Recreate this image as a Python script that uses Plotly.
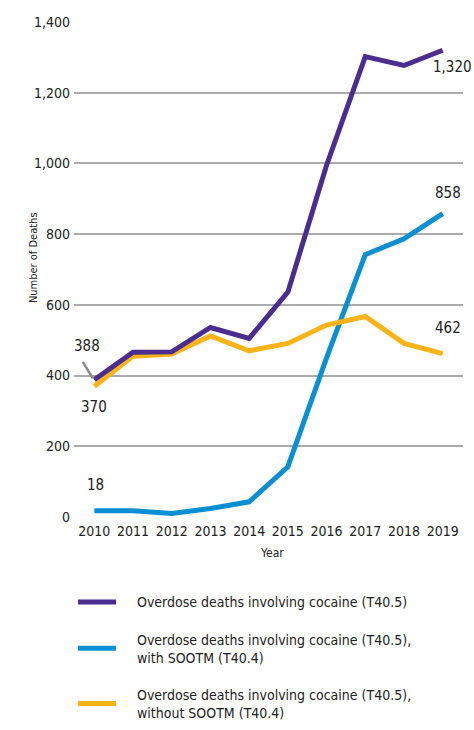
import plotly.graph_objects as go

years = [2010, 2011, 2012, 2013, 2014, 2015, 2016, 2017, 2018, 2019]
cocaine_total = [388, 466, 467, 536, 505, 636, 995, 1302, 1277, 1320]
cocaine_with_sootm = [18, 18, 10, 24, 43, 142, 450, 742, 787, 858]
cocaine_without_sootm = [370, 455, 461, 512, 470, 491, 543, 567, 491, 462]

PAD = "\u00a0" * 4
names = [
    PAD + "Overdose deaths involving cocaine (T40.5)",
    PAD + "Overdose deaths involving cocaine (T40.5),<br>" + PAD + "with SOOTM (T40.4)",
    PAD + "Overdose deaths involving cocaine (T40.5),<br>" + PAD + "without SOOTM (T40.4)",
]
colors = ["#4a2d8f", "#0b8fd4", "#fbb317"]
series = [cocaine_total, cocaine_with_sootm, cocaine_without_sootm]

FONT = "DejaVu Sans Condensed, Liberation Sans Narrow, sans-serif"
TXT = "#222222"

fig = go.Figure()
traces = []
for i in range(3):
    traces.append(go.Scatter(
        x=years, y=series[i], mode="lines", name=names[i],
        line=dict(color=colors[i], width=5),
        legendgroup=f"g{i}", legendrank=i + 1,
    ))
for i in [1, 2, 0]:
    fig.add_trace(traces[i])

# value labels
labels = [
    (years[-1], cocaine_total[-1], f"{cocaine_total[-1]:,}", 10, -17),
    (years[-1], cocaine_with_sootm[-1], f"{cocaine_with_sootm[-1]:,}", 5, 21),
    (years[-1], cocaine_without_sootm[-1], f"{cocaine_without_sootm[-1]:,}", 5, 26),
    (years[0], cocaine_with_sootm[0], f"{cocaine_with_sootm[0]:,}", 1, 26),
    (years[0], cocaine_without_sootm[0], f"{cocaine_without_sootm[0]:,}", 0, -21),
    (years[0], cocaine_total[0], f"{cocaine_total[0]:,}", -7, 34),
]
for x, y, t, xs, ys in labels:
    fig.add_annotation(x=x, y=y, text=t, showarrow=False, xshift=xs, yshift=ys,
                       font=dict(family=FONT, size=15, color=TXT))

# leader line for 388 label
fig.add_shape(type="line", xref="x", yref="y", xsizemode="pixel", ysizemode="pixel",
              xanchor=years[0], yanchor=cocaine_total[0],
              x0=-11.5, y0=18, x1=-1.5, y1=1.5,
              line=dict(color="#8a8a8a", width=2.5))

# axis titles
fig.add_annotation(xref="paper", yref="paper", x=-0.1054, y=0.525, text="Number of Deaths",
                   textangle=-90, showarrow=False, xanchor="center", yanchor="middle",
                   font=dict(family=FONT, size=11, color=TXT))
fig.add_annotation(xref="paper", yref="paper", x=0.509, y=-0.0734, text="Year",
                   showarrow=False, xanchor="center", yanchor="middle",
                   font=dict(family=FONT, size=12, color=TXT))

fig.update_layout(
    width=474, height=730,
    margin=dict(l=74, r=11, t=22, b=213, autoexpand=False),
    paper_bgcolor="white", plot_bgcolor="white",
    font=dict(family=FONT, size=14, color=TXT),
    showlegend=True,
    legend=dict(
        x=-0.0026, y=-0.14, xanchor="left", yanchor="top",
        font=dict(family=FONT, size=14, color=TXT),
        tracegroupgap=16, traceorder="grouped",
        itemwidth=38,
    ),
)
fig.update_xaxes(
    range=[2009.475, 2019.525], tickmode="array", tickvals=years,
    ticktext=[str(y) for y in years], showgrid=False, zeroline=False,
    showline=False, ticks="", tickangle=0, automargin=False,
    ticklabelstandoff=4,
)
fig.update_yaxes(
    range=[0, 1400], tickmode="array", tickvals=list(range(0, 1401, 200)),
    tickformat=",", showgrid=True, gridcolor="#ababab", gridwidth=1.5,
    zeroline=False, showline=False, ticks="", automargin=False,
    ticklabelstandoff=3,
)

fig.write_html(
    "out.html",
    config={"displayModeBar": False},
    post_script="document.body.style.margin='0';document.documentElement.style.overflow='hidden';",
)
